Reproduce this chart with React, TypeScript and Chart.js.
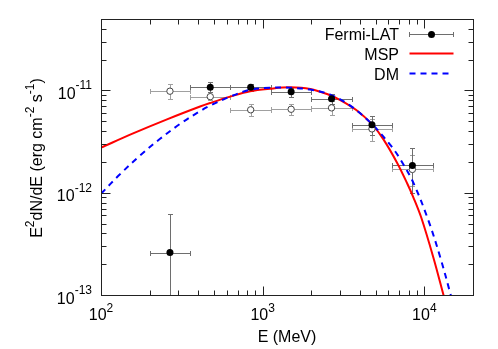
import React, { useEffect, useRef } from "react";
import { Chart, registerables } from "chart.js";

Chart.register(...registerables);

// ---- Data ----
const binCenters = [267, 474, 843, 1500, 2667, 4743, 8434];
const binLow = [200, 356, 632, 1125, 2000, 3557, 6325];
const binHigh = [356, 632, 1125, 2000, 3557, 6325, 11247];

const fermiFlux = [2.6e-13, 1.077e-11, 1.077e-11, 9.71e-12, 8.29e-12, 4.62e-12, 1.85e-12];
const fermiErrLow = [5e-14, 9.62e-12, 9.9e-12, 8.66e-12, 7.4e-12, 3.7e-12, 9.93e-13];
const fermiErrHigh = [6.18e-13, 1.198e-11, 1.17e-11, 1.063e-11, 9.3e-12, 5.6e-12, 2.74e-12];

const altFlux = [9.84e-12, 8.7e-12, 6.47e-12, 6.55e-12, 6.76e-12, 4.21e-12, 1.69e-12];
const altErrLow = [8.29e-12, 8.1e-12, 5.67e-12, 5.8e-12, 5.8e-12, 3.18e-12, 1.16e-12];
const altErrHigh = [1.164e-11, 9.3e-12, 7.4e-12, 7.4e-12, 7.85e-12, 5.3e-12, 2.35e-12];

const mspEnergy = [100, 158, 256, 410, 473, 629, 837, 1113, 1480, 1968, 2544, 3020, 3793, 4764, 5573, 6805, 7850, 8551, 9581, 11370, 13114, 13685];
const mspFlux = [2.76e-12, 3.805e-12, 5.22e-12, 6.97e-12, 7.54e-12, 8.7e-12, 9.84e-12, 1.041e-11, 1.073e-11, 1.034e-11, 9.14e-12, 8.07e-12, 6.44e-12, 4.64e-12, 3.345e-12, 1.946e-12, 1.225e-12, 9.03e-13, 5.69e-13, 2.33e-13, 1.01e-13, 7.8e-14];

const dmEnergy = [100, 131, 174, 232, 308, 410, 473, 629, 837, 1113, 1480, 1968, 2618, 3482, 4764, 6247, 7101, 8551, 10588, 12564, 14488, 15560];
const dmFlux = [9.78e-13, 1.515e-12, 2.305e-12, 3.37e-12, 4.705e-12, 6.28e-12, 7.11e-12, 8.71e-12, 1.016e-11, 1.063e-11, 1.063e-11, 1.02e-11, 9.12e-12, 7.11e-12, 4.66e-12, 2.85e-12, 2.126e-12, 1.253e-12, 5.375e-13, 2.32e-13, 1.03e-13, 6.7e-14];

const xTickValues = [100, 1000, 10000];
const xTickExponents = ["2", "3", "4"];
const xMinorTicks = [200, 300, 400, 500, 600, 700, 800, 900, 2000, 3000, 4000, 5000, 6000, 7000, 8000, 9000];
const yTickValues = [1e-13, 1e-12, 1e-11];
const yTickExponents = ["-13", "-12", "-11"];
const yMinorTicks = [2e-13, 3e-13, 4e-13, 5e-13, 6e-13, 7e-13, 8e-13, 9e-13, 2e-12, 3e-12, 4e-12, 5e-12, 6e-12, 7e-12, 8e-12, 9e-12, 2e-11, 3e-11, 4e-11];

const legendLabels = ["Fermi-LAT", "MSP", "DM"];

const FONT = '"Liberation Sans", Arial, Helvetica, sans-serif';
const RED = "#ff0000";
const BLUE = "#0000ff";
const FILLED_BAR = "#6e6e6e";
const OPEN_BAR = "#a0a0a0";
const DASH = [6, 5];

const customPlugin = {
  id: "customFrame",
  beforeDatasetsDraw(chart: any) {
    const { ctx, chartArea: a, scales } = chart;
    const xs = scales.x;
    const ys = scales.y;
    ctx.save();
    ctx.beginPath();
    ctx.rect(a.left, a.top, a.right - a.left, a.bottom - a.top);
    ctx.clip();
    const cap = 2.5;
    const drawSet = (flux: number[], lo: number[], hi: number[], color: string) => {
      ctx.strokeStyle = color;
      ctx.lineWidth = 1;
      for (let i = 0; i < flux.length; i++) {
        const cx = Math.round(xs.getPixelForValue(binCenters[i])) + 0.5;
        const cy = Math.round(ys.getPixelForValue(flux[i])) + 0.5;
        const x0 = Math.round(xs.getPixelForValue(binLow[i])) + 0.5;
        const x1 = Math.round(xs.getPixelForValue(binHigh[i])) + 0.5;
        const y0 = Math.round(ys.getPixelForValue(lo[i])) + 0.5;
        const y1 = Math.round(ys.getPixelForValue(hi[i])) + 0.5;
        ctx.beginPath();
        ctx.moveTo(x0, cy);
        ctx.lineTo(x1, cy);
        ctx.moveTo(x0, cy - cap);
        ctx.lineTo(x0, cy + cap);
        ctx.moveTo(x1, cy - cap);
        ctx.lineTo(x1, cy + cap);
        ctx.moveTo(cx, y0);
        ctx.lineTo(cx, y1);
        ctx.moveTo(cx - cap, y0);
        ctx.lineTo(cx + cap, y0);
        ctx.moveTo(cx - cap, y1);
        ctx.lineTo(cx + cap, y1);
        ctx.stroke();
      }
    };
    drawSet(altFlux, altErrLow, altErrHigh, OPEN_BAR);
    drawSet(fermiFlux, fermiErrLow, fermiErrHigh, FILLED_BAR);
    ctx.restore();
  },
  afterDraw(chart: any) {
    const { ctx, chartArea: a, scales } = chart;
    const xs = scales.x;
    const ys = scales.y;
    ctx.save();
    const L = Math.round(a.left) + 0.5;
    const R = Math.round(a.right) + 0.5;
    const T = Math.round(a.top) + 0.5;
    const B = Math.round(a.bottom) + 0.5;
    ctx.strokeStyle = "#222";
    ctx.lineWidth = 1;
    ctx.strokeRect(L, T, R - L, B - T);

    const major = 9;
    const minor = 5;
    ctx.beginPath();
    const xt = (v: number, len: number) => {
      const px = Math.round(xs.getPixelForValue(v)) + 0.5;
      ctx.moveTo(px, B);
      ctx.lineTo(px, B - len);
      ctx.moveTo(px, T);
      ctx.lineTo(px, T + len);
    };
    const yt = (v: number, len: number) => {
      const py = Math.round(ys.getPixelForValue(v)) + 0.5;
      ctx.moveTo(L, py);
      ctx.lineTo(L + len, py);
      ctx.moveTo(R, py);
      ctx.lineTo(R - len, py);
    };
    xTickValues.forEach((v) => xt(v, major));
    xMinorTicks.forEach((v) => xt(v, minor));
    yTickValues.forEach((v) => yt(v, major));
    yMinorTicks.forEach((v) => yt(v, minor));
    ctx.stroke();

    // tick labels
    ctx.fillStyle = "#000";
    ctx.textBaseline = "alphabetic";
    const baseFont = `16px ${FONT}`;
    const expFont = `12px ${FONT}`;
    xTickValues.forEach((v, i) => {
      const px = xs.getPixelForValue(v);
      ctx.font = baseFont;
      const wb = ctx.measureText("10").width;
      ctx.font = expFont;
      const we = ctx.measureText(xTickExponents[i]).width;
      const start = px - (wb + we) / 2;
      ctx.font = baseFont;
      ctx.textAlign = "left";
      ctx.fillText("10", start, 320);
      ctx.font = expFont;
      ctx.fillText(xTickExponents[i], start + wb, 312);
    });
    yTickValues.forEach((v, i) => {
      const py = ys.getPixelForValue(v);
      ctx.font = expFont;
      const we = ctx.measureText(yTickExponents[i]).width;
      ctx.font = baseFont;
      const wb = ctx.measureText("10").width;
      const right = 92;
      ctx.textAlign = "left";
      ctx.fillText("10", right - we - wb, py + 8.5);
      ctx.font = expFont;
      ctx.fillText(yTickExponents[i], right - we, py - 1);
    });

    // x title
    ctx.font = baseFont;
    ctx.textAlign = "center";
    ctx.fillText("E (MeV)", (a.left + a.right) / 2, 342);

    // y title with superscripts
    const parts: [string, boolean][] = [
      ["E", false],
      ["2", true],
      ["dN/dE (erg cm", false],
      ["-2", true],
      [" s", false],
      ["-1", true],
      [")", false],
    ];
    let total = 0;
    const widths = parts.map(([t, sup]) => {
      ctx.font = sup ? expFont : baseFont;
      const w = ctx.measureText(t).width;
      total += w;
      return w;
    });
    ctx.save();
    ctx.translate(41.5, (a.top + a.bottom) / 2 + 1);
    ctx.rotate(-Math.PI / 2);
    ctx.textAlign = "left";
    let cur = -total / 2;
    parts.forEach(([t, sup], i) => {
      ctx.font = sup ? expFont : baseFont;
      ctx.fillText(t, cur, sup ? -8 : 0);
      cur += widths[i];
    });
    ctx.restore();

    // legend
    ctx.font = baseFont;
    ctx.textAlign = "right";
    const textRight = 399;
    const baselines = [39.5, 59.5, 79.5];
    const centers = [34.5, 53.5, 73.5];
    legendLabels.forEach((lab, i) => ctx.fillText(lab, textRight, baselines[i]));
    const sx0 = 409.5;
    const sx1 = 453.5;
    // Fermi-LAT sample
    ctx.strokeStyle = FILLED_BAR;
    ctx.lineWidth = 1;
    ctx.beginPath();
    ctx.moveTo(sx0, centers[0]);
    ctx.lineTo(sx1, centers[0]);
    ctx.moveTo(sx0, centers[0] - 2.5);
    ctx.lineTo(sx0, centers[0] + 2.5);
    ctx.moveTo(sx1, centers[0] - 2.5);
    ctx.lineTo(sx1, centers[0] + 2.5);
    ctx.stroke();
    ctx.fillStyle = "#000";
    ctx.beginPath();
    ctx.arc((sx0 + sx1) / 2, centers[0], 3.5, 0, Math.PI * 2);
    ctx.fill();
    // MSP sample
    ctx.strokeStyle = RED;
    ctx.lineWidth = 2;
    ctx.beginPath();
    ctx.moveTo(sx0, centers[1]);
    ctx.lineTo(sx1, centers[1]);
    ctx.stroke();
    // DM sample
    ctx.strokeStyle = BLUE;
    ctx.setLineDash(DASH);
    ctx.beginPath();
    ctx.moveTo(sx0, centers[2]);
    ctx.lineTo(sx1, centers[2]);
    ctx.stroke();
    ctx.setLineDash([]);
    ctx.restore();
  },
};

export default function App() {
  const canvasRef = useRef<HTMLCanvasElement | null>(null);

  useEffect(() => {
    const canvas = canvasRef.current;
    if (!canvas) return;
    const chart = new Chart(canvas, {
      type: "scatter",
      data: {
        datasets: [
          {
            label: "Fermi-LAT",
            data: binCenters.map((x, i) => ({ x, y: fermiFlux[i] })),
            showLine: false,
            pointRadius: 3.5,
            pointBackgroundColor: "#000",
            pointBorderColor: "#000",
            pointBorderWidth: 0,
            order: 0,
          },
          {
            label: "Fermi-LAT (alt)",
            data: binCenters.map((x, i) => ({ x, y: altFlux[i] })),
            showLine: false,
            pointRadius: 3.2,
            pointBackgroundColor: "#fff",
            pointBorderColor: "#444",
            pointBorderWidth: 1,
            order: 1,
          },
          {
            label: "MSP",
            data: mspEnergy.map((x, i) => ({ x, y: mspFlux[i] })),
            showLine: true,
            borderColor: RED,
            borderWidth: 2,
            pointRadius: 0,
            tension: 0.35,
            clip: 0,
            order: 3,
          },
          {
            label: "DM",
            data: dmEnergy.map((x, i) => ({ x, y: dmFlux[i] })),
            showLine: true,
            borderColor: BLUE,
            borderWidth: 2,
            borderDash: DASH,
            pointRadius: 0,
            tension: 0.35,
            clip: 0,
            order: 2,
          },
        ],
      } as any,
      options: {
        responsive: false,
        animation: false,
        devicePixelRatio: 1,
        layout: { padding: { left: 101, right: 25, top: 19, bottom: 54 } },
        plugins: { legend: { display: false }, tooltip: { enabled: false } },
        events: [],
        scales: {
          x: { type: "logarithmic", min: 100, max: 20000, display: false },
          y: { type: "logarithmic", min: 1e-13, max: 5e-11, display: false },
        },
      } as any,
      plugins: [customPlugin],
    });
    return () => chart.destroy();
  }, []);

  return (
    <div style={{ position: "fixed", left: 0, top: 0, width: 498, height: 349, background: "#fff" }}>
      <canvas ref={canvasRef} width={498} height={349} style={{ display: "block" }} />
    </div>
  );
}
